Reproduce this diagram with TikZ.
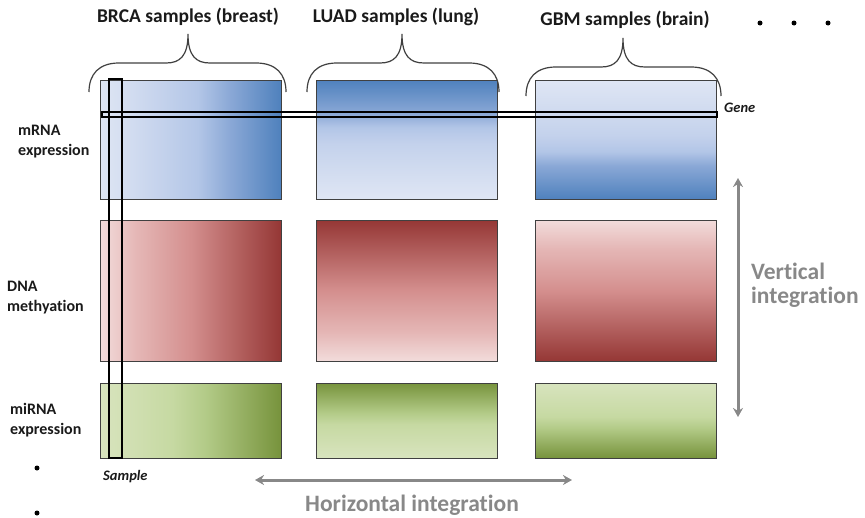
\documentclass[tikz,border=0pt]{standalone}
\usepackage{fontspec}
\setmainfont[Ligatures=NoCommon]{Carlito}
\usetikzlibrary{arrows.meta}
% colours
\definecolor{bD}{HTML}{4F81BD}\definecolor{bM1}{HTML}{8AA8D6}\definecolor{bM2}{HTML}{B3C6E7}\definecolor{bM3}{HTML}{C4D2EC}\definecolor{bL}{HTML}{DFE6F4}
\definecolor{rD}{HTML}{953735}\definecolor{rM}{HTML}{D48F8E}\definecolor{rM2}{HTML}{E5B7B6}\definecolor{rL}{HTML}{F2DCDB}
\definecolor{gD}{HTML}{77933C}\definecolor{gM1}{HTML}{B3CB88}\definecolor{gM2}{HTML}{C6D9A2}\definecolor{gL}{HTML}{D8E4BE}
\definecolor{edge}{HTML}{404040}
\definecolor{intgray}{HTML}{888888}
\definecolor{txt}{HTML}{1A1A1A}
% shadings: "H" dark at right, "V" dark at top, "R" dark at bottom
\pgfdeclarehorizontalshading{blueH}{100bp}{color(0bp)=(bL); color(25bp)=(bL); color(42bp)=(bM3); color(52bp)=(bM2); color(61bp)=(bM1); color(75bp)=(bD); color(100bp)=(bD)}
\pgfdeclareverticalshading{blueV}{100bp}{color(0bp)=(bL); color(25bp)=(bL); color(48bp)=(bM3); color(55bp)=(bM2); color(61bp)=(bM1); color(75bp)=(bD); color(100bp)=(bD)}
\pgfdeclareverticalshading{blueR}{100bp}{color(0bp)=(bD); color(25bp)=(bD); color(39bp)=(bM1); color(45bp)=(bM2); color(52bp)=(bM3); color(75bp)=(bL); color(100bp)=(bL)}
\pgfdeclarehorizontalshading{redH}{100bp}{color(0bp)=(rL); color(25bp)=(rL); color(35bp)=(rM2); color(50bp)=(rM); color(75bp)=(rD); color(100bp)=(rD)}
\pgfdeclareverticalshading{redV}{100bp}{color(0bp)=(rL); color(25bp)=(rL); color(35bp)=(rM2); color(50bp)=(rM); color(75bp)=(rD); color(100bp)=(rD)}
\pgfdeclareverticalshading{redR}{100bp}{color(0bp)=(rD); color(25bp)=(rD); color(50bp)=(rM); color(65bp)=(rM2); color(75bp)=(rL); color(100bp)=(rL)}
\pgfdeclarehorizontalshading{greenH}{100bp}{color(0bp)=(gL); color(25bp)=(gL); color(45bp)=(gM2); color(54bp)=(gM1); color(75bp)=(gD); color(100bp)=(gD)}
\pgfdeclareverticalshading{greenV}{100bp}{color(0bp)=(gL); color(25bp)=(gL); color(47.5bp)=(gM2); color(55bp)=(gM1); color(75bp)=(gD); color(100bp)=(gD)}
\pgfdeclareverticalshading{greenR}{100bp}{color(0bp)=(gD); color(25bp)=(gD); color(45bp)=(gM1); color(52.5bp)=(gM2); color(75bp)=(gL); color(100bp)=(gL)}
\newcommand\upbrace[4]{% x1, xmid, x2, dy
  \draw[bracestyle] (#1,{92+#4}) .. controls (#1,{74+#4}) and ({#1+10},{63+#4}) .. ({#1+30},{63+#4})
    -- ({#2-22},{63+#4}) .. controls ({#2-8},{63+#4}) and (#2,{56+#4}) .. (#2,{34+#4})
    .. controls (#2,{56+#4}) and ({#2+8},{63+#4}) .. ({#2+22},{63+#4})
    -- ({#3-30},{63+#4}) .. controls ({#3-10},{63+#4}) and (#3,{74+#4}) .. (#3,{92+#4});}
\begin{document}
\begin{tikzpicture}[x=1pt,y=-1pt,
  databox/.style={draw=edge,line width=1pt,inner sep=0pt,outer sep=0pt,anchor=north west,minimum width=181pt},
  row1/.style={databox,minimum height=119pt},
  row2/.style={databox,minimum height=141pt},
  row3/.style={databox,minimum height=75pt},
  frame/.style={draw=black,line width=1.6pt,inner sep=0pt,outer sep=0pt,anchor=north west},
  title/.style={font=\fontsize{19.5}{22}\selectfont\bfseries,text=txt,inner sep=0pt},
  rowlab/.style={font=\fontsize{16}{20}\selectfont\bfseries,text=txt,align=left,anchor=west,inner sep=0pt},
  itlab/.style={font=\fontsize{14.5}{16}\selectfont\bfseries\itshape,text=txt,anchor=west,inner sep=0pt},
  intlab/.style={font=\fontsize{23.5}{24}\selectfont\bfseries,text=intgray,inner sep=0pt},
  garrow/.style={draw=intgray,line width=3pt,{Stealth[length=9pt,width=10pt]}-{Stealth[length=9pt,width=10pt]}},
  bracestyle/.style={draw=edge,line width=1.2pt},
  dotmark/.style={fill=black,circle,inner sep=0pt,minimum size=5pt}]
\useasboundingbox (0,0) rectangle (865,517);
% data boxes
\node[row1,shading=blueH,shade] (m1) at (100,80) {};
\node[row1,shading=blueV,shade] (m2) at (316,80) {};
\node[row1,shading=blueR,shade] (m3) at (535,80) {};
\node[row2,shading=redH,shade] (d1) at (100,220) {};
\node[row2,shading=redV,shade] (d2) at (316,220) {};
\node[row2,shading=redR,shade] (d3) at (535,220) {};
\node[row3,shading=greenH,shade] (g1) at (100,383) {};
\node[row3,shading=greenV,shade] (g2) at (316,383) {};
\node[row3,shading=greenR,shade] (g3) at (535,383) {};
% sample and gene frames
\node[frame,minimum width=13pt,minimum height=379pt] (sample) at (109,79) {};
\node[frame,minimum width=615pt,minimum height=5pt] (gene) at (102,112) {};
\node[itlab] (genelab) at (724,108) {Gene};
\node[itlab] (samplelab) at (103,477) {Sample};
% braces
\upbrace{89}{188}{286}{0}
\upbrace{307}{402}{499}{0}
\upbrace{526}{623}{721}{4}
% titles
\node[title] (t1) at (188,17) {BRCA samples (breast)};
\node[title] (t2) at (396,17) {LUAD samples (lung)};
\node[title] (t3) at (625,20) {GBM samples (brain)};
% row labels
\node[rowlab] (l1) at (18,142) {mRNA\\expression};
\node[rowlab] (l2) at (7,298) {DNA\\methyation};
\node[rowlab] (l3) at (10,420) {miRNA\\expression};
% dots
\node[dotmark] (dA) at (760,23) {};
\node[dotmark] (dB) at (794,23) {};
\node[dotmark] (dC) at (828,23) {};
\node[dotmark] (dD) at (37,468) {};
\node[dotmark] (dE) at (37,513) {};
% integration arrows
\coordinate (vT) at (738,178);
\coordinate (vB) at (738,417);
\draw[garrow] (vT) -- (vB);
\node[intlab,anchor=west,align=left] (vlab) at (751,285) {Vertical\\integration};
\coordinate (hL) at (255,480);
\coordinate (hR) at (572,480);
\draw[garrow] (hL) -- (hR);
\node[intlab] (hlab) at (412,505) {Horizontal integration};
\end{tikzpicture}
\end{document}
